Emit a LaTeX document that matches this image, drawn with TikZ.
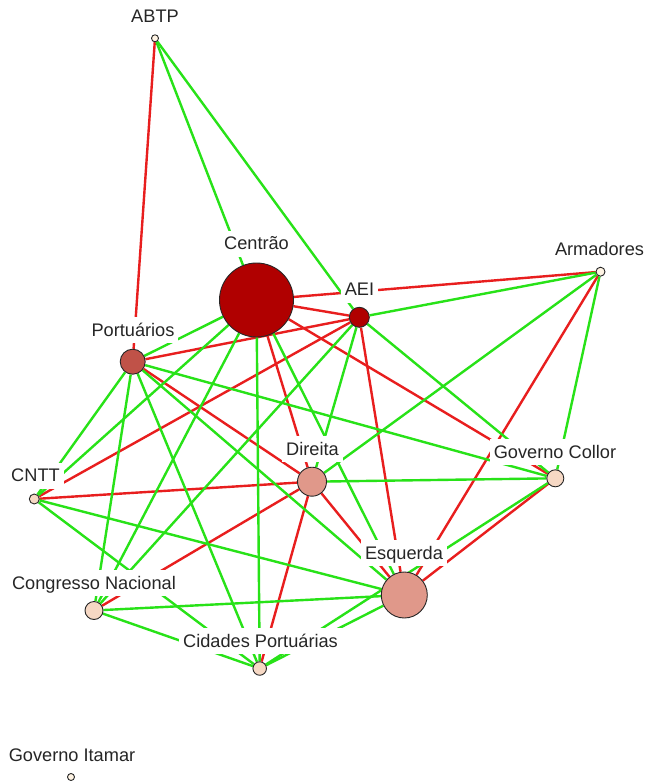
\documentclass[tikz,border=0pt]{standalone}
\usepackage{fontspec}
\setmainfont{Liberation Sans}
\definecolor{er}{RGB}{232,30,30}
\definecolor{eg}{RGB}{40,226,24}
\definecolor{cdark}{RGB}{176,0,0}
\definecolor{cmid}{RGB}{192,82,72}
\definecolor{csal}{RGB}{224,152,138}
\definecolor{cpeach}{RGB}{246,216,196}
\definecolor{clight}{RGB}{255,244,228}
\pgfdeclarelayer{bg}
\pgfdeclarelayer{edges}
\pgfdeclarelayer{labels}
\pgfsetlayers{bg,edges,labels,main}
\begin{document}
\begin{tikzpicture}[x=1pt,y=-1pt,
  vtx/.style={circle, draw=black!85, line width=0.9pt, inner sep=0pt, minimum size=#1},
  lbl/.style={anchor=base, fill=white, inner xsep=4pt, inner ysep=3pt, text height=16pt, text depth=4pt, font=\fontsize{18.2}{20}\selectfont, text=black!85},
  redge/.style={line width=2.4pt, draw=er},
  gedge/.style={line width=2.4pt, draw=eg}]
\begin{pgfonlayer}{bg}
\useasboundingbox[fill=white] (0,0) rectangle (646,782);
\end{pgfonlayer}

% vertices
\node[vtx=74pt, fill=cdark] (C) at (256.5,300) {};
\node[vtx=20pt, fill=cdark] (E) at (359.3,317.3) {};
\node[vtx=25pt, fill=cmid] (P) at (132.7,361.7) {};
\node[vtx=29pt, fill=csal] (D) at (312,481.7) {};
\node[vtx=46pt, fill=csal] (Q) at (404.3,595) {};
\node[vtx=17pt, fill=cpeach] (G) at (555.3,478.3) {};
\node[vtx=10pt, fill=cpeach] (T) at (34.3,499) {};
\node[vtx=18pt, fill=cpeach] (N) at (94,610.5) {};
\node[vtx=13.5pt, fill=cpeach] (K) at (259.7,668.5) {};
\node[vtx=7pt, fill=clight] (A) at (155,38.3) {};
\node[vtx=9pt, fill=clight] (M) at (600.5,271.7) {};
\node[vtx=7pt, fill=clight] (I) at (71,777) {};

% labels
\begin{pgfonlayer}{labels}
\node[lbl] (lA) at (155,22.7) {ABTP};
\node[lbl] (lC) at (256.5,249.5) {Centrão};
\node[lbl] (lE) at (359.5,295.7) {AEI};
\node[lbl] (lM) at (599.5,255.7) {Armadores};
\node[lbl] (lP) at (133,336) {Portuários};
\node[lbl] (lD) at (312.5,455) {Direita};
\node[lbl] (lG) at (555,458.3) {Governo Collor};
\node[lbl] (lT) at (35.5,481.7) {CNTT};
\node[lbl] (lQ) at (404,559.3) {Esquerda};
\node[lbl] (lN) at (94,589.3) {Congresso Nacional};
\node[lbl] (lK) at (260.5,647.3) {Cidades Portuárias};
\node[lbl] (lI) at (72,761.7) {Governo Itamar};
\end{pgfonlayer}

% edges
\begin{pgfonlayer}{edges}
\foreach \u/\v in {A/P, C/M, C/E, C/G, C/D, P/E, P/D, E/T, E/Q, D/T, D/N, D/K, D/Q, M/Q, Q/G}
  \draw[redge] (\u) -- (\v);
\foreach \u/\v in {A/C, A/E, C/Q, C/K, C/T, C/P, C/N, P/G, P/T, P/N, P/K, P/Q, E/N, E/D, E/G, E/M, D/G, M/D, M/G, T/Q, T/K, N/Q, N/K, K/Q, K/G}
  \draw[gedge] (\u) -- (\v);
\end{pgfonlayer}
\end{tikzpicture}
\end{document}
